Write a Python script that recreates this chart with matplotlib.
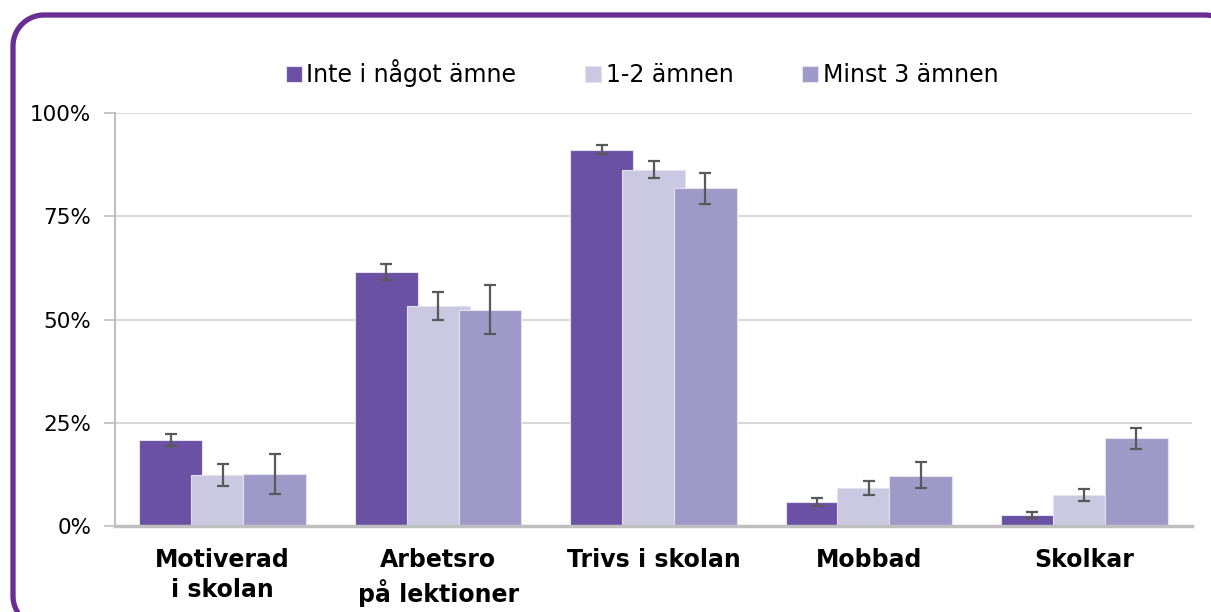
import matplotlib.pyplot as plt
import numpy as np
from matplotlib.patches import PathPatch
from matplotlib.path import Path
from matplotlib.transforms import IdentityTransform

categories = ["Motiverad\ni skolan", "Arbetsro\npå lektioner", "Trivs i skolan", "Mobbad", "Skolkar"]
series_names = ["Inte i något ämne", "1-2 ämnen", "Minst 3 ämnen"]

inte = [20.8, 61.5, 91.0, 5.7, 2.6]
inte_lo = [19.3, 59.6, 90.0, 4.8, 1.9]
inte_hi = [22.3, 63.4, 92.3, 6.9, 3.5]

ett_tva = [12.3, 53.3, 86.2, 9.2, 7.4]
ett_tva_lo = [9.7, 49.9, 84.2, 7.6, 6.1]
ett_tva_hi = [15.0, 56.7, 88.4, 11.0, 9.0]

minst3 = [12.6, 52.3, 81.8, 12.2, 21.2]
minst3_lo = [7.7, 46.5, 78.0, 9.2, 18.6]
minst3_hi = [17.4, 58.4, 85.5, 15.5, 23.8]

y_ticks = [0, 25, 50, 75, 100]
y_labels = ["0%", "25%", "50%", "75%", "100%"]

colors = ["#6a51a3", "#cbc9e2", "#9e9ac8"]

W, H = 1211, 612
fig = plt.figure(figsize=(W / 100, H / 100), dpi=100)
ax = fig.add_axes([115/W, 86/H, 1077/W, 413/H])


def rund_ram(x0, y0, x1, y1, r):
    # rektangel med rundade hörn, i pixlar (origo nere till vänster)
    pts = []
    for cx, cy, a0 in [(x1 - r, y1 - r, 0), (x0 + r, y1 - r, 90),
                       (x0 + r, y0 + r, 180), (x1 - r, y0 + r, 270)]:
        t = np.radians(np.linspace(a0, a0 + 90, 20))
        pts += list(zip(cx + r * np.cos(t), cy + r * np.sin(t)))
    pts.append(pts[0])
    return Path(pts)


# ram: vänster 13, höger utanför bilden, topp 15, botten ~627 (från överkant)
ram = PathPatch(rund_ram(13, H - 627, 1236, H - 15, 31), transform=IdentityTransform(),
                fill=False, edgecolor="#6a2d91", linewidth=3.8, clip_on=False)
fig.patches.append(ram)

x = np.arange(len(categories))
offs = 0.241
w = 0.292
data = [(inte, inte_lo, inte_hi), (ett_tva, ett_tva_lo, ett_tva_hi), (minst3, minst3_lo, minst3_hi)]
handles = []
for i, (v, lo, hi) in enumerate(data):
    v = np.array(v)
    yerr = [v - np.array(lo), np.array(hi) - v]
    pos = x + (i - 1) * offs
    b = ax.bar(pos, v, width=w, color=colors[i], edgecolor="#e4e2f0", linewidth=0.8,
               zorder=2 + i)
    ax.errorbar(pos, v, yerr=yerr, fmt="none", ecolor="#595959", elinewidth=1.6,
                capsize=4.5, capthick=1.6, zorder=2 + i)
    handles.append(b)

ax.set_xlim(-0.5, 4.5)
ax.set_ylim(0, 100)
ax.set_yticks(y_ticks)
ax.set_yticklabels(y_labels, fontsize=15.5)
ax.set_xticks(x)
ax.set_xticklabels(categories, fontsize=17, fontweight="bold", linespacing=1.3)
ax.tick_params(axis="x", length=0, pad=16)
ax.tick_params(axis="y", length=8, color="#bfbfbf", width=1.2, pad=9)
ax.grid(axis="y", color="#d9d9d9", linewidth=1.5, zorder=0)
ax.set_axisbelow(True)
for s in ["top", "right"]:
    ax.spines[s].set_visible(False)
ax.spines["left"].set_color("#bfbfbf")
ax.spines["left"].set_linewidth(1.5)
ax.spines["bottom"].set_color("#bfbfbf")
ax.spines["bottom"].set_linewidth(2.5)
ax.spines["bottom"].set_zorder(6)

fig.legend(handles, series_names, loc="center", bbox_to_anchor=(642/W, 1 - 73/H), ncol=3,
           frameon=False, fontsize=17, handlelength=0.68, handleheight=0.68,
           handletextpad=0.2, columnspacing=2.9)

plt.savefig("out.png", dpi=100)
